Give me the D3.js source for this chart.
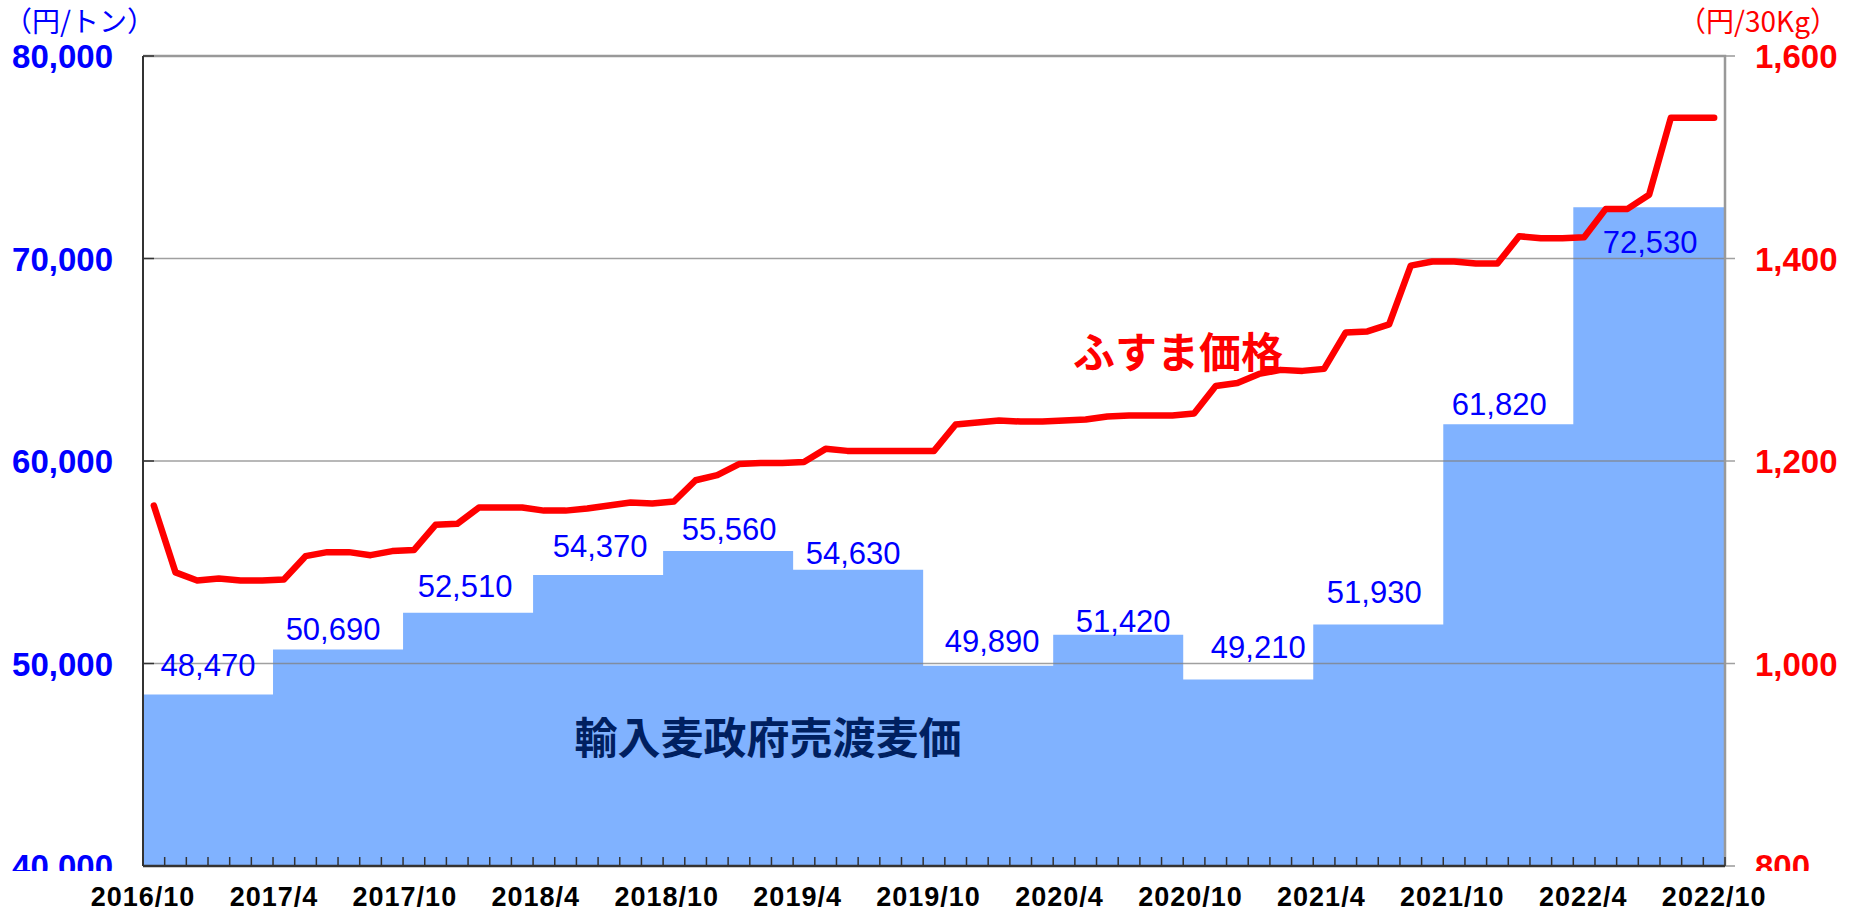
<!DOCTYPE html>
<html>
<head>
<meta charset="utf-8">
<script src="https://cdn.jsdelivr.net/npm/d3@7"></script>
<style>
  html, body { margin: 0; padding: 0; background: #fff; }
  svg { display: block; }
</style>
</head>
<body>
<svg id="chart" width="1853" height="914"></svg>
<script>
'use strict'

// ------ Data ------
// bar periods (start month of each 6-month period) and government resale price of imported wheat (yen/ton)
const barStarts = ['2016/10', '2017/4', '2017/10', '2018/4', '2018/10', '2019/4',
  '2019/10', '2020/4', '2020/10', '2021/4', '2021/10', '2022/4']
const wheatPrice = [48470, 50690, 52510, 54370, 55560, 54630,
  49890, 51420, 49210, 51930, 61820, 72530]

// monthly bran (fusuma) price, yen/30kg, 2016/10 .. 2022/10
const fusumaPrice = [
  1156, 1090, 1082, 1084, 1082, 1082, 1083, 1106, 1110, 1110, 1107, 1111,
  1112, 1137, 1138, 1154, 1154, 1154, 1151, 1151, 1153, 1156, 1159, 1158,
  1160, 1181, 1186, 1197, 1198, 1198, 1199, 1212, 1210, 1210, 1210, 1210,
  1210, 1236, 1238, 1240, 1239, 1239, 1240, 1241, 1244, 1245, 1245, 1245,
  1247, 1274, 1277, 1286, 1290, 1289, 1291, 1327, 1328, 1335, 1393, 1397,
  1397, 1395, 1395, 1422, 1420, 1420, 1421, 1449, 1449, 1463, 1539, 1539,
  1539
]

const xTickLabels = ['2016/10', '2017/4', '2017/10', '2018/4', '2018/10', '2019/4', '2019/10',
  '2020/4', '2020/10', '2021/4', '2021/10', '2022/4', '2022/10']
const leftTicks = [40000, 50000, 60000, 70000, 80000]
const rightTicks = [800, 1000, 1200, 1400, 1600]

// hand placement of the value labels (px, relative to bar centre / bar top)
const labelDx = [0, -5, -3, 2, 1, -5, 4, 5, 10, -4, -9, 1]
const labelDy = [-18, -10, -16, -18, -11, -6, -14, -3, -21, -21, -9, 46]

// months 2016/10 .. 2022/10 as categories
const months = []
for (let y = 2016, m = 10; y < 2022 || (y === 2022 && m <= 10); m++) {
  if (m > 12) { m = 1; y++ }
  if (y === 2022 && m > 10) break
  months.push(y + '/' + m)
}

// ------ Layout ------
const plotLeft = 143, plotRight = 1725, plotTop = 56, plotBottom = 866
const BAR = '#80B2FF'
const svg = d3.select('#chart')

var x = d3.scaleBand().domain(months).range([plotLeft, plotRight])
var yL = d3.scaleLinear().domain([40000, 80000]).range([plotBottom, plotTop])
var yR = d3.scaleLinear().domain([800, 1600]).range([plotBottom, plotTop])
var xLab = d3.scalePoint().domain(xTickLabels)
  .range([plotLeft, x(months[months.length - 1]) + x.bandwidth() / 2])

function monthEdge (i) {
  return i < months.length ? x(months[i]) : plotRight
}

// ------ Bars (step blocks, drawn as one stepped area so no seams show) ------
var bars = barStarts.map(function (s, i) {
  var a = months.indexOf(s)
  var b = i < barStarts.length - 1 ? months.indexOf(barStarts[i + 1]) : months.length
  return { x0: monthEdge(a), x1: monthEdge(b), v: wheatPrice[i], i: i }
})

var stepArea = d3.area()
  .x(function (d) { return d.x })
  .y0(plotBottom)
  .y1(function (d) { return yL(d.v) })
  .curve(d3.curveStepAfter)

var stepPoints = bars.map(function (d) { return { x: d.x0, v: d.v } })
stepPoints.push({ x: bars[bars.length - 1].x1, v: bars[bars.length - 1].v })

svg.append('path').datum(stepPoints)
  .attr('d', stepArea)
  .attr('fill', BAR)

// ------ Grid lines and frame ------
svg.append('g').selectAll('line').data([50000, 60000, 70000]).enter().append('line')
  .attr('x1', plotLeft).attr('x2', plotRight + 10)
  .attr('y1', function (d) { return yL(d) }).attr('y2', function (d) { return yL(d) })
  .attr('stroke', '#808080').attr('stroke-opacity', 0.75).attr('stroke-width', 1.5)

// top border + right axis (grey)
svg.append('path')
  .attr('d', 'M' + plotLeft + ',' + plotTop + 'H' + plotRight + 'V' + plotBottom)
  .attr('fill', 'none').attr('stroke', '#999').attr('stroke-width', 2.5)
svg.append('line').attr('x1', plotRight).attr('x2', plotRight + 10)
  .attr('y1', plotTop).attr('y2', plotTop).attr('stroke', '#999').attr('stroke-width', 1.5)
svg.append('line').attr('x1', plotRight).attr('x2', plotRight + 10)
  .attr('y1', plotBottom).attr('y2', plotBottom).attr('stroke', '#999').attr('stroke-width', 1.5)

// left axis (dark), ticks pointing inward
svg.append('line').attr('x1', plotLeft).attr('x2', plotLeft).attr('y1', plotTop).attr('y2', plotBottom)
  .attr('stroke', '#333').attr('stroke-width', 2)
svg.append('g').selectAll('line').data(leftTicks).enter().append('line')
  .attr('x1', plotLeft).attr('x2', plotLeft + 11)
  .attr('y1', function (d) { return yL(d) }).attr('y2', function (d) { return yL(d) })
  .attr('stroke', '#333').attr('stroke-width', 1.5)

// bottom axis with monthly ticks pointing up
svg.append('g').selectAll('line').data(d3.range(months.length + 1)).enter().append('line')
  .attr('x1', function (d) { return monthEdge(d) }).attr('x2', function (d) { return monthEdge(d) })
  .attr('y1', plotBottom).attr('y2', plotBottom - 9)
  .attr('stroke', '#333').attr('stroke-width', 1.5)
svg.append('line').attr('x1', plotLeft).attr('x2', plotRight).attr('y1', plotBottom).attr('y2', plotBottom)
  .attr('stroke', '#333').attr('stroke-width', 2.5)

// ------ Red line: fusuma price ------
var line = d3.line()
  .x(function (d, i) { return x(months[i]) + x.bandwidth() / 2 })
  .y(function (d) { return yR(d) })

svg.append('path').datum(fusumaPrice)
  .attr('d', line)
  .attr('fill', 'none').attr('stroke', '#FF0000').attr('stroke-width', 6.5)
  .attr('stroke-linejoin', 'round').attr('stroke-linecap', 'round')

// ------ Value labels ------
svg.append('g').selectAll('text').data(bars).enter().append('text')
  .attr('x', function (d) { return (d.x0 + d.x1) / 2 + labelDx[d.i] })
  .attr('y', function (d) { return yL(d.v) + labelDy[d.i] })
  .attr('text-anchor', 'middle')
  .style('font', '31px "Liberation Sans", Arial, sans-serif')
  .attr('fill', '#0000FF')
  .text(function (d) { return d3.format(',')(d.v) })

// ------ Axis labels ------
svg.append('g').selectAll('text').data(leftTicks).enter().append('text')
  .attr('x', 113).attr('y', function (d) { return yL(d) + 12 })
  .attr('text-anchor', 'end')
  .style('font', 'bold 33px "Liberation Sans", Arial, sans-serif')
  .attr('fill', '#0000FF')
  .text(d3.format(','))

svg.append('g').selectAll('text').data(rightTicks).enter().append('text')
  .attr('x', 1755).attr('y', function (d) { return yR(d) + 12 })
  .style('font', 'bold 33px "Liberation Sans", Arial, sans-serif')
  .attr('fill', '#FF0000')
  .text(d3.format(','))

// the lowest labels are cut off by the category label band
svg.append('rect').attr('x', 0).attr('y', plotBottom + 5).attr('width', plotLeft - 3).attr('height', 50).attr('fill', '#fff')
svg.append('rect').attr('x', plotRight + 12).attr('y', plotBottom + 5).attr('width', 200).attr('height', 50).attr('fill', '#fff')

svg.append('g').selectAll('text').data(xTickLabels).enter().append('text')
  .attr('x', function (d) { return xLab(d) }).attr('y', 906)
  .attr('text-anchor', 'middle')
  .style('font', 'bold 27px "Liberation Sans", Arial, sans-serif')
  .style('letter-spacing', '1px')
  .attr('fill', '#000')
  .text(function (d) { return d })

// units
svg.append('text').attr('x', 4).attr('y', 32)
  .style('font', '28px "Noto Sans CJK JP", sans-serif')
  .attr('fill', '#0000FF').text('（円/トン）')
svg.append('text').attr('x', 1838).attr('y', 32).attr('text-anchor', 'end')
  .style('font', '28px "Noto Sans CJK JP", sans-serif')
  .attr('fill', '#FF0000').text('（円/30Kg）')

// ------ Series names ------
svg.append('text').attr('x', 1178).attr('y', 368).attr('text-anchor', 'middle')
  .style('font', 'bold 42px "Noto Sans CJK JP", sans-serif')
  .attr('fill', '#FF0000').text('ふすま価格')
svg.append('text').attr('x', 768).attr('y', 754).attr('text-anchor', 'middle')
  .style('font', 'bold 43px "Noto Sans CJK JP", sans-serif')
  .attr('fill', '#002060').text('輸入麦政府売渡麦価')
</script>
</body>
</html>
